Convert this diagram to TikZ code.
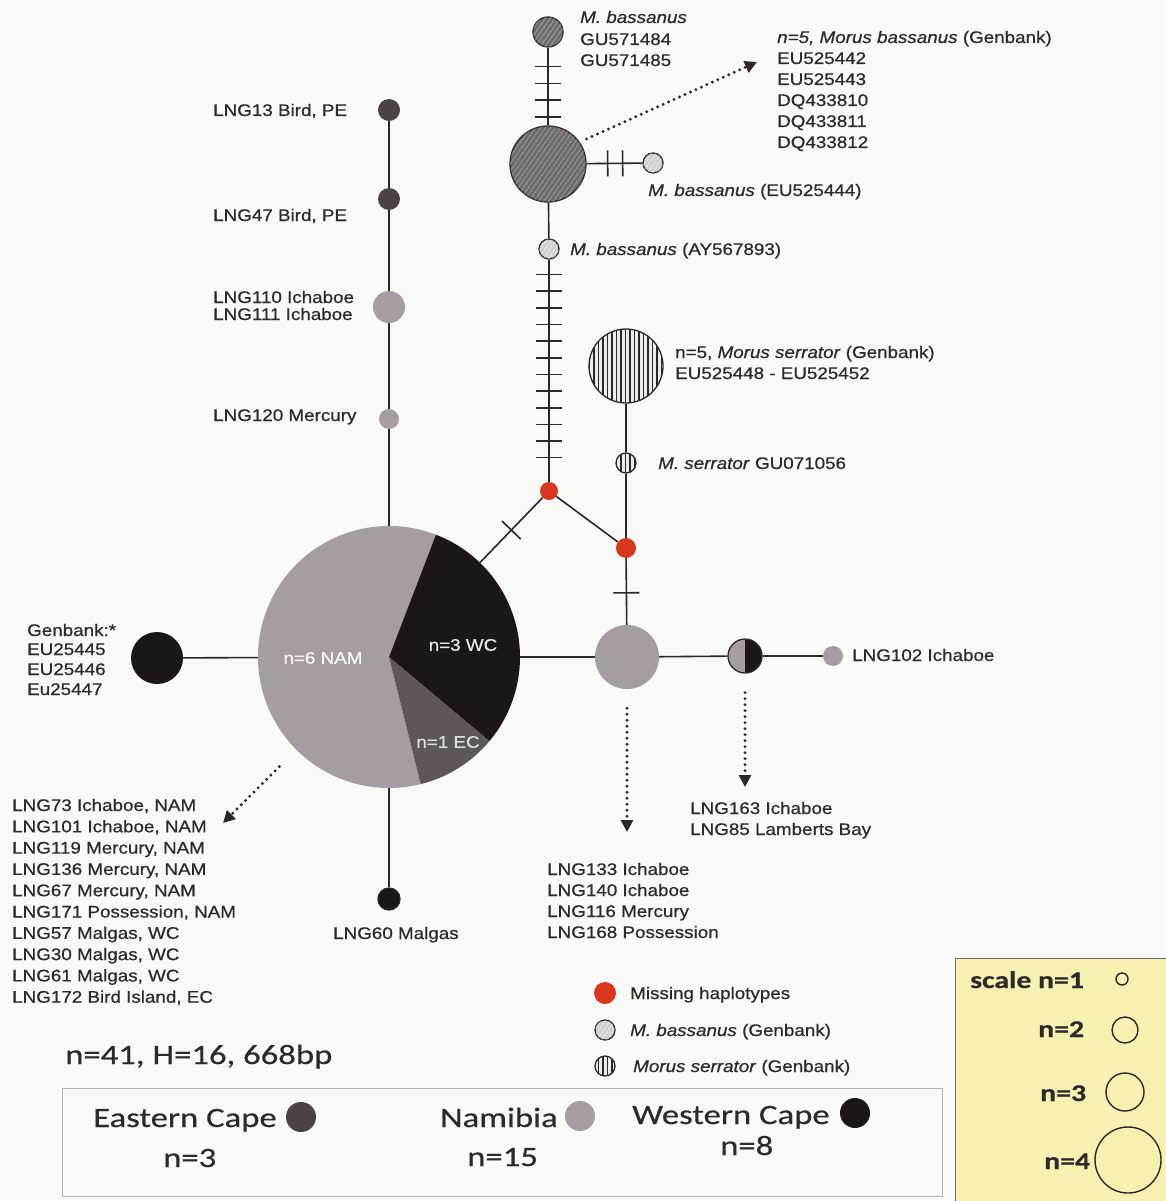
\documentclass[tikz,border=0pt]{standalone}
\usepackage{fontspec}
\setmainfont{Liberation Sans}[FakeStretch=1.12,FakeBold=0.6]
\newfontfamily\calfont{Carlito}[FakeStretch=1.24,FakeBold=0.5]
\usetikzlibrary{patterns.meta,decorations.markings,arrows.meta,calc}
\definecolor{bg}{HTML}{F9F9F7}
\definecolor{ink}{HTML}{2F292B}
\definecolor{edge}{HTML}{2E2729}
\definecolor{nam}{HTML}{A69DA4}
\definecolor{wc}{HTML}{1C1617}
\definecolor{ec}{HTML}{5E5658}
\definecolor{ecdot}{HTML}{4A4244}
\definecolor{miss}{HTML}{D8361E}
\definecolor{bassd}{HTML}{6E6769}
\definecolor{bassl}{HTML}{D3CED0}
\definecolor{serf}{HTML}{EEEBEC}
\definecolor{scalebg}{HTML}{F6F1B0}
\definecolor{boxline}{HTML}{B5B3B3}
\newcommand\lblfont{\fontsize{16.8}{20}\selectfont}
\newcommand\bigfont{\calfont\fontsize{28}{33}\selectfont}
\newcommand\scfont{\calfont\bfseries\fontsize{24}{28}\selectfont}
\tikzset{
  pop/.style={circle, inner sep=0pt, minimum size=#1},
  hap/.style={circle, inner sep=0pt, minimum size=#1, draw=edge, line width=1.3pt},
  bassdark/.style={hap=#1, fill=bassd, postaction={pattern={Lines[angle=55,distance=4pt,line width=0.9pt]}, pattern color=bassl}},
  basslight/.style={hap=#1, fill=bassl, postaction={pattern={Lines[angle=55,distance=4pt,line width=0.7pt]}, pattern color=white}},
  serr/.style={hap=#1, fill=serf, postaction={pattern={Lines[angle=90,distance=4.5pt,line width=1.1pt]}, pattern color=edge}},
  link/.style={draw=edge, line width=1.6pt},
  tickmark/.style={postaction={decorate}, decoration={markings, mark=at position #1 with {\draw[edge, line width=1.6pt] (0pt,-13pt) -- (0pt,13pt);}}},
  tickrow/.style args={#1 step #2 to #3}{postaction={decorate}, decoration={markings, mark=between positions #1 and #3 step #2 with {\draw[edge, line width=1.6pt] (0pt,-13pt) -- (0pt,13pt);}}},
  dotarrow/.style={draw=edge, line width=3.2pt, line cap=round, dash pattern=on 0pt off 6pt, -{Triangle[length=12pt,width=12pt]}},
  lbl/.style={anchor=base west, inner sep=0pt, text=ink, font=\lblfont},
  pielbl/.style={inner sep=0pt, font=\lblfont},
  big/.style={anchor=base west, inner sep=0pt, text=ink, font=\bigfont},
  sc/.style={anchor=base west, inner sep=0pt, text=ink, font=\scfont},
}
\begin{document}
\begin{tikzpicture}[x=1pt, y=-1pt]
\fill[bg] (0,0) rectangle (1165,1201);
\useasboundingbox (0,0) rectangle (1165,1201);

% ---------- pie ----------
\node[pop=262pt] (pie) at (389,657) {};
\fill[nam] (pie.center) -- ++(69:131pt) arc[start angle=69, end angle=284, radius=131pt] -- cycle;
\fill[wc] (pie.center) -- ++(-40:131pt) arc[start angle=-40, end angle=69, radius=131pt] -- cycle;
\fill[ec] (pie.center) -- ++(-76:131pt) arc[start angle=-76, end angle=-40, radius=131pt] -- cycle;
\node[pielbl, text=white!92!nam] (tnam) at (323,658) {n=6 NAM};
\node[pielbl, text=white!90!wc] (twc) at (463,645) {n=3 WC};
\node[pielbl, text=white!80!ec] (tec) at (448,742) {n=1 EC};

% ---------- left chain ----------
\node[pop=22pt, fill=ecdot] (e13) at (389,110) {};
\node[pop=22pt, fill=ecdot] (e47) at (389,199) {};
\node[pop=32pt, fill=nam] (n110) at (389,307) {};
\node[pop=20pt, fill=nam] (n120) at (389,419) {};
\draw[link] (e13) -- (e47);
\draw[link] (e47) -- (n110);
\draw[link] (n110) -- (n120);
\draw[link] (n120) -- (pie);
\node[lbl] (t13) at (213,116) {LNG13 Bird, PE};
\node[lbl] (t47) at (213,221) {LNG47 Bird, PE};
\node[lbl] (t110) at (213,303) {LNG110 Ichaboe};
\node[lbl] (t111) at (213,320) {LNG111 Ichaboe};
\node[lbl] (t120) at (213,421) {LNG120 Mercury};

% ---------- left black ----------
\node[pop=52pt, fill=wc] (gb) at (157,658) {};
\draw[link] (gb) -- (pie);
\node[lbl] (tg1) at (27,636) {Genbank:*};
\node[lbl] (tg2) at (27,655) {EU25445};
\node[lbl] (tg3) at (27,675) {EU25446};
\node[lbl] (tg4) at (27,695) {Eu25447};

% ---------- bottom ----------
\node[hap=22pt, fill=wc] (w60) at (389,899) {};
\draw[link] (pie) -- (w60);
\node[lbl] (t60) at (333,939) {LNG60 Malgas};
\coordinate (arrP) at (223,823);
\draw[dotarrow] ($(pie.center)!155pt!(pie.225)$) -- (arrP);
\foreach \t [count=\i from 0] in {{LNG73 Ichaboe, NAM},{LNG101 Ichaboe, NAM},{LNG119 Mercury, NAM},{LNG136 Mercury, NAM},{LNG67 Mercury, NAM},{LNG171 Possession, NAM},{LNG57 Malgas, WC},{LNG30 Malgas, WC},{LNG61 Malgas, WC},{LNG172 Bird Island, EC}}
  \node[lbl] (lp\i) at (12,811+21.3*\i) {\t};

% ---------- right of pie ----------
\node[pop=64pt, fill=nam] (m1) at (627,657) {};
\node[hap=34pt, fill=nam, path picture={\fill[wc] (path picture bounding box.north) rectangle (path picture bounding box.south east);}] (h1) at (745,656) {};
\node[pop=20pt, fill=nam] (g102) at (833,656) {};
\draw[link] (pie) -- (m1);
\draw[link] (m1) -- (h1);
\draw[link] (h1) -- (g102);
\node[lbl] (t102) at (852,661) {LNG102 Ichaboe};
\coordinate (arrM) at (627,832);
\coordinate (arrH) at (745,787);
\draw[dotarrow] ($(m1.south)+(0,19)$) -- (arrM);
\draw[dotarrow] ($(h1.south)+(0,19)$) -- (arrH);
\node[lbl] (t163) at (690,814) {LNG163 Ichaboe};
\node[lbl] (t85) at (690,835) {LNG85 Lamberts Bay};
\node[lbl] (t133) at (547,875) {LNG133 Ichaboe};
\node[lbl] (t140) at (547,896) {LNG140 Ichaboe};
\node[lbl] (t116) at (547,917) {LNG116 Mercury};
\node[lbl] (t168) at (547,938) {LNG168 Possession};

% ---------- missing haplotypes ----------
\node[pop=18pt, fill=miss] (r1) at (549,491) {};
\node[pop=20pt, fill=miss] (r2) at (626,548) {};
\draw[link, tickmark=0.5] (r1) -- (pie);
\draw[link] (r1) -- (r2);
\draw[link, tickmark=0.52] (r2) -- (m1);

% ---------- Morus serrator ----------
\node[serr=74pt] (s0) at (626,366) {};
\node[serr=20pt] (s1) at (626,463) {};
\draw[link] (s0) -- (s1);
\draw[link] (s1) -- (r2);
\node[lbl] (ts0a) at (675,358) {n=5, \textit{Morus serrator} (Genbank)};
\node[lbl] (ts0b) at (675,379) {EU525448 - EU525452};
\node[lbl] (ts1) at (658,469) {\textit{M. serrator} GU071056};

% ---------- Morus bassanus ----------
\node[bassdark=30pt] (b1) at (548,32) {};
\node[bassdark=76pt] (b0) at (548,164) {};
\node[basslight=20pt] (b2) at (653,163) {};
\node[basslight=20pt] (b3) at (549,249) {};
\draw[link, tickrow={19pt step 16.7pt to 72pt}] (b1) -- (b0);
\draw[link, tickrow={21pt step 15pt to 38pt}] (b0) -- (b2);
\draw[link] (b0) -- (b3);
\draw[link, tickrow={15pt step 16.64pt to 200pt}] (b3) -- (r1);
\node[lbl] (tb1a) at (580,23) {\textit{M. bassanus}};
\node[lbl] (tb1b) at (580,45) {GU571484};
\node[lbl] (tb1c) at (580,66) {GU571485};
\node[lbl] (tb2) at (648,196) {\textit{M. bassanus} (EU525444)};
\node[lbl] (tb3) at (570,255) {\textit{M. bassanus} (AY567893)};
\coordinate (arrB) at (757,62);
\draw[dotarrow] ($(b0.center)!46pt!(b0.33)$) -- (arrB);
\node[lbl] (tb0a) at (777,43) {\textit{n=5, Morus bassanus} (Genbank)};
\foreach \t [count=\i from 0] in {EU525442,EU525443,DQ433810,DQ433811,DQ433812}
  \node[lbl] (tb0\i) at (777,64+21*\i) {\t};

% ---------- symbol legend ----------
\node[pop=22pt, fill=miss] (lgm) at (605,993) {};
\node[basslight=20pt] (lgb) at (605,1030) {};
\node[serr=20pt] (lgs) at (605,1066) {};
\node[lbl] (tlgm) at (630,999) {Missing haplotypes};
\node[lbl] (tlgb) at (630,1036) {\textit{M. bassanus} (Genbank)};
\node[lbl] (tlgs) at (633,1072) {\textit{Morus serrator} (Genbank)};

% ---------- summary and region legend ----------
\node[big] (tsum) at (65,1064) {n=41, H=16, 668bp};
\draw[boxline, line width=1pt] (62,1088) rectangle (942,1196);
\node[big] (tec1) at (93,1127) {Eastern Cape};
\node[pop=30pt, fill=ecdot] (lec) at (301,1117) {};
\node[big] (tec2) at (163,1167) {n=3};
\node[big] (tna1) at (440,1127) {Namibia};
\node[pop=30pt, fill=nam] (lna) at (580,1116) {};
\node[big] (tna2) at (467,1166) {n=15};
\node[big] (twc1) at (632,1124) {Western Cape};
\node[pop=30pt, fill=wc] (lwc) at (855,1113) {};
\node[big] (twc2) at (720,1155) {n=8};

% ---------- scale box ----------
\draw[fill=scalebg, draw=edge!70, line width=0.8pt] (955,958) rectangle (1170,1206);
\node[sc] (sc1) at (970,988) {scale n=1};
\node[sc] (sc2) at (1038,1037) {n=2};
\node[sc] (sc3) at (1040,1101) {n=3};
\node[sc] (sc4) at (1044,1169) {n=4};
\node[hap=12pt, line width=1.4pt] (c1) at (1122,979) {};
\node[hap=26pt, line width=1.4pt] (c2) at (1125,1030) {};
\node[hap=38pt, line width=1.4pt] (c3) at (1125,1092) {};
\node[hap=66pt, line width=1.4pt] (c4) at (1128,1160) {};
\end{tikzpicture}
\end{document}
